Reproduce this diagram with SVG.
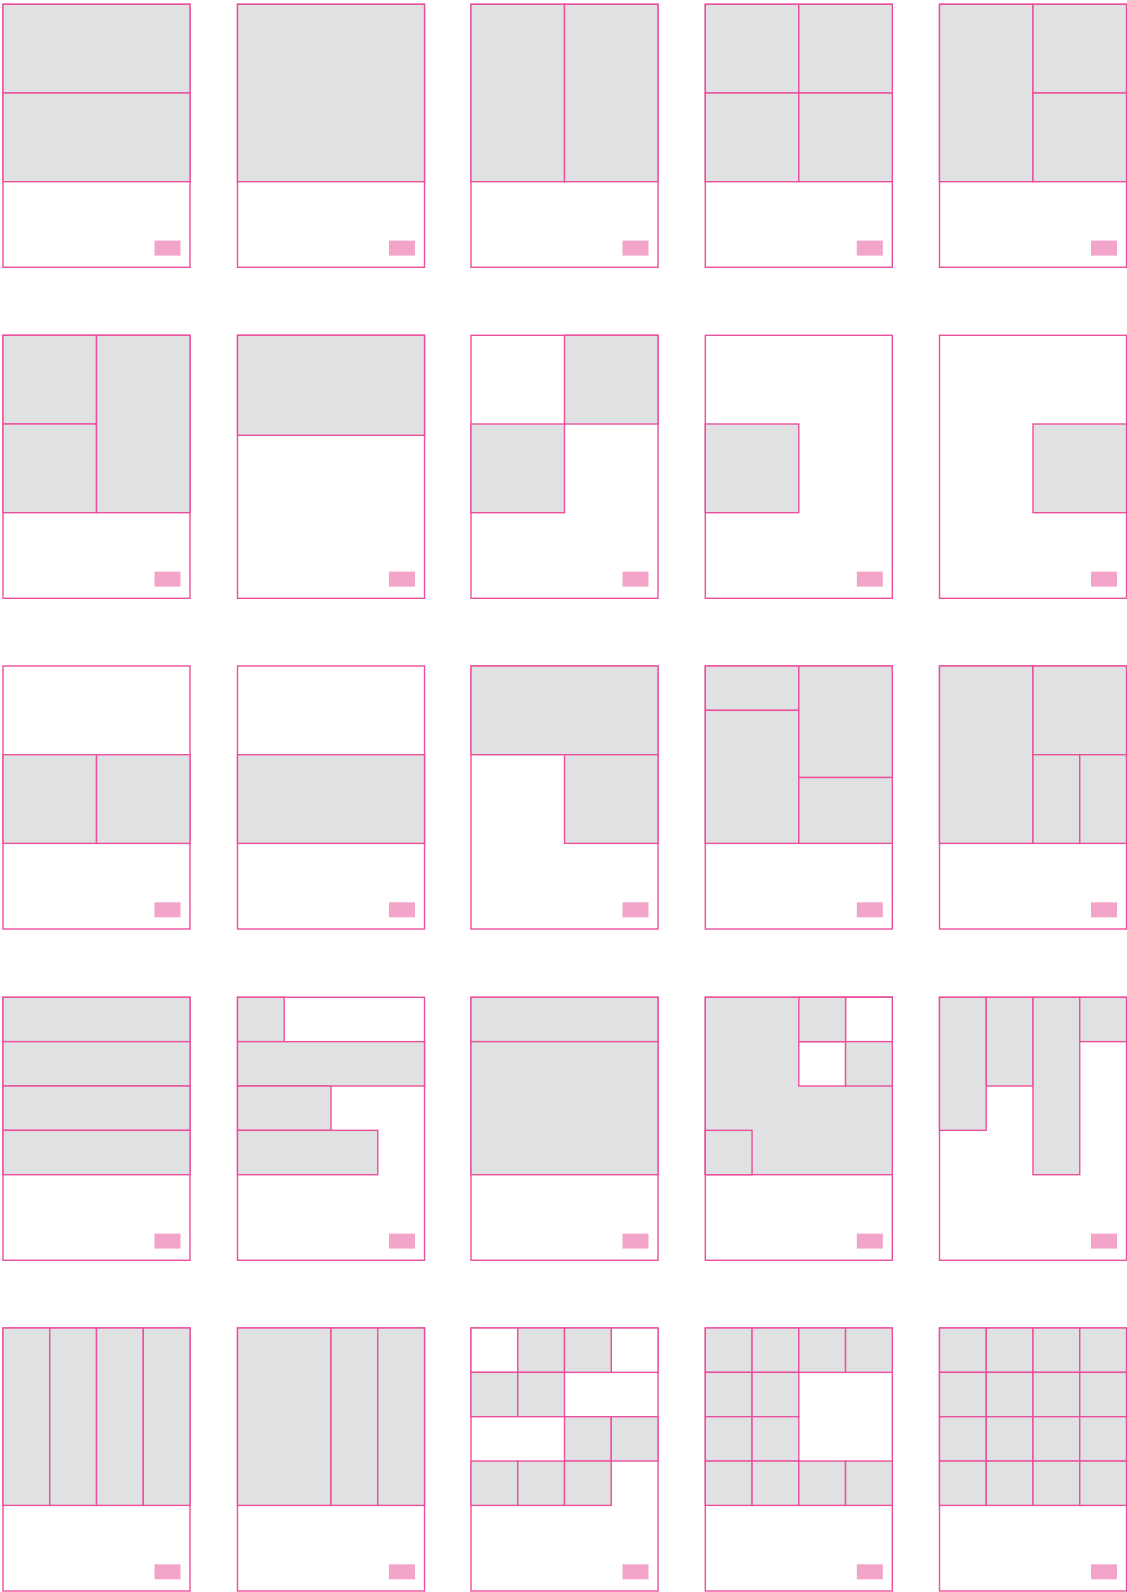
<svg xmlns="http://www.w3.org/2000/svg" width="1127" height="1592" viewBox="0 0 1127 1592">
<style>
.t{fill:#FFFFFF;stroke:#EB509C;stroke-width:1.4}
.g{fill:#E0E1E3;stroke:#EB509C;stroke-width:1.4}
.w{fill:#FFFFFF;stroke:#EB509C;stroke-width:1.4}
.tag{fill:#F3A4C9}
</style>
<defs>
<rect id="page" class="t" x="0" y="0" width="187" height="263"/>
<rect id="label" class="tag" x="151.5" y="236.3" width="26" height="15"/>
</defs>
<rect width="1127" height="1592" fill="#FFFFFF"/>

<!-- Row 1 -->
<g id="r1c1" transform="translate(3,4.3)">
<use href="#page"/>
<rect class="g" x="0" y="0" width="187" height="88.7"/>
<rect class="g" x="0" y="88.7" width="187" height="88.7"/>
<use href="#label"/>
</g>
<g id="r1c2" transform="translate(237.5,4.3)">
<use href="#page"/>
<rect class="g" x="0" y="0" width="187" height="177.4"/>
<use href="#label"/>
</g>
<g id="r1c3" transform="translate(471,4.3)">
<use href="#page"/>
<rect class="g" x="0" y="0" width="93.5" height="177.4"/>
<rect class="g" x="93.5" y="0" width="93.5" height="177.4"/>
<use href="#label"/>
</g>
<g id="r1c4" transform="translate(705.3,4.3)">
<use href="#page"/>
<rect class="g" x="0" y="0" width="93.5" height="88.7"/>
<rect class="g" x="93.5" y="0" width="93.5" height="88.7"/>
<rect class="g" x="0" y="88.7" width="93.5" height="88.7"/>
<rect class="g" x="93.5" y="88.7" width="93.5" height="88.7"/>
<use href="#label"/>
</g>
<g id="r1c5" transform="translate(939.5,4.3)">
<use href="#page"/>
<rect class="g" x="0" y="0" width="93.5" height="177.4"/>
<rect class="g" x="93.5" y="0" width="93.5" height="88.7"/>
<rect class="g" x="93.5" y="88.7" width="93.5" height="88.7"/>
<use href="#label"/>
</g>

<!-- Row 2 -->
<g id="r2c1" transform="translate(3,335.3)">
<use href="#page"/>
<rect class="g" x="0" y="0" width="93.5" height="88.7"/>
<rect class="g" x="0" y="88.7" width="93.5" height="88.7"/>
<rect class="g" x="93.5" y="0" width="93.5" height="177.4"/>
<use href="#label"/>
</g>
<g id="r2c2" transform="translate(237.5,335.3)">
<use href="#page"/>
<rect class="g" x="0" y="0" width="187" height="100"/>
<use href="#label"/>
</g>
<g id="r2c3" transform="translate(471,335.3)">
<use href="#page"/>
<rect class="g" x="93.5" y="0" width="93.5" height="88.7"/>
<rect class="g" x="0" y="88.7" width="93.5" height="88.7"/>
<use href="#label"/>
</g>
<g id="r2c4" transform="translate(705.3,335.3)">
<use href="#page"/>
<rect class="g" x="0" y="88.7" width="93.5" height="88.7"/>
<use href="#label"/>
</g>
<g id="r2c5" transform="translate(939.5,335.3)">
<use href="#page"/>
<rect class="g" x="93.5" y="88.7" width="93.5" height="88.7"/>
<use href="#label"/>
</g>

<!-- Row 3 -->
<g id="r3c1" transform="translate(3,666)">
<use href="#page"/>
<rect class="g" x="0" y="88.7" width="93.5" height="88.7"/>
<rect class="g" x="93.5" y="88.7" width="93.5" height="88.7"/>
<use href="#label"/>
</g>
<g id="r3c2" transform="translate(237.5,666)">
<use href="#page"/>
<rect class="g" x="0" y="88.7" width="187" height="88.7"/>
<use href="#label"/>
</g>
<g id="r3c3" transform="translate(471,666)">
<use href="#page"/>
<rect class="g" x="0" y="0" width="187" height="88.7"/>
<rect class="g" x="93.5" y="88.7" width="93.5" height="88.7"/>
<use href="#label"/>
</g>
<g id="r3c4" transform="translate(705.3,666)">
<use href="#page"/>
<rect class="g" x="0" y="0" width="93.5" height="44.35"/>
<rect class="g" x="0" y="44.35" width="93.5" height="133.05"/>
<rect class="g" x="93.5" y="0" width="93.5" height="111.5"/>
<rect class="g" x="93.5" y="111.5" width="93.5" height="65.9"/>
<use href="#label"/>
</g>
<g id="r3c5" transform="translate(939.5,666)">
<use href="#page"/>
<rect class="g" x="0" y="0" width="93.5" height="177.4"/>
<rect class="g" x="93.5" y="0" width="93.5" height="88.7"/>
<rect class="g" x="93.5" y="88.7" width="46.75" height="88.7"/>
<rect class="g" x="140.25" y="88.7" width="46.75" height="88.7"/>
<use href="#label"/>
</g>

<!-- Row 4 -->
<g id="r4c1" transform="translate(3,997.3)">
<use href="#page"/>
<rect class="g" x="0" y="0" width="187" height="44.35"/>
<rect class="g" x="0" y="44.35" width="187" height="44.35"/>
<rect class="g" x="0" y="88.7" width="187" height="44.35"/>
<rect class="g" x="0" y="133.05" width="187" height="44.35"/>
<use href="#label"/>
</g>
<g id="r4c2" transform="translate(237.5,997.3)">
<use href="#page"/>
<rect class="g" x="0" y="0" width="46.75" height="44.35"/>
<rect class="g" x="0" y="44.35" width="187" height="44.35"/>
<rect class="g" x="0" y="88.7" width="93.5" height="44.35"/>
<rect class="g" x="0" y="133.05" width="140.25" height="44.35"/>
<use href="#label"/>
</g>
<g id="r4c3" transform="translate(471,997.3)">
<use href="#page"/>
<rect class="g" x="0" y="0" width="187" height="44.35"/>
<rect class="g" x="0" y="44.35" width="187" height="133.05"/>
<use href="#label"/>
</g>
<g id="r4c4" transform="translate(705.3,997.3)">
<use href="#page"/>
<rect class="g" x="0" y="0" width="187" height="177.4"/>
<rect class="w" x="140.25" y="0" width="46.75" height="44.35"/>
<rect class="w" x="93.5" y="44.35" width="46.75" height="44.35"/>
<rect class="g" x="93.5" y="0" width="46.75" height="44.35"/>
<rect class="g" x="140.25" y="44.35" width="46.75" height="44.35"/>
<rect class="g" x="0" y="133.05" width="46.75" height="44.35"/>
<use href="#label"/>
</g>
<g id="r4c5" transform="translate(939.5,997.3)">
<use href="#page"/>
<rect class="g" x="0" y="0" width="46.75" height="133.05"/>
<rect class="g" x="46.75" y="0" width="46.75" height="88.7"/>
<rect class="g" x="93.5" y="0" width="46.75" height="177.4"/>
<rect class="g" x="140.25" y="0" width="46.75" height="44.35"/>
<use href="#label"/>
</g>

<!-- Row 5 -->
<g id="r5c1" transform="translate(3,1328)">
<use href="#page"/>
<rect class="g" x="0" y="0" width="46.75" height="177.4"/>
<rect class="g" x="46.75" y="0" width="46.75" height="177.4"/>
<rect class="g" x="93.5" y="0" width="46.75" height="177.4"/>
<rect class="g" x="140.25" y="0" width="46.75" height="177.4"/>
<use href="#label"/>
</g>
<g id="r5c2" transform="translate(237.5,1328)">
<use href="#page"/>
<rect class="g" x="0" y="0" width="93.5" height="177.4"/>
<rect class="g" x="93.5" y="0" width="46.75" height="177.4"/>
<rect class="g" x="140.25" y="0" width="46.75" height="177.4"/>
<use href="#label"/>
</g>
<g id="r5c3" transform="translate(471,1328)">
<use href="#page"/>
<rect class="w" x="0" y="0" width="46.75" height="44.35"/>
<rect class="w" x="140.25" y="0" width="46.75" height="44.35"/>
<rect class="g" x="46.75" y="0" width="46.75" height="44.35"/>
<rect class="g" x="93.5" y="0" width="46.75" height="44.35"/>
<rect class="g" x="0" y="44.35" width="46.75" height="44.35"/>
<rect class="g" x="46.75" y="44.35" width="46.75" height="44.35"/>
<rect class="g" x="93.5" y="88.7" width="46.75" height="44.35"/>
<rect class="g" x="140.25" y="88.7" width="46.75" height="44.35"/>
<rect class="g" x="0" y="133.05" width="46.75" height="44.35"/>
<rect class="g" x="46.75" y="133.05" width="46.75" height="44.35"/>
<rect class="g" x="93.5" y="133.05" width="46.75" height="44.35"/>
<use href="#label"/>
</g>
<g id="r5c4" transform="translate(705.3,1328)">
<use href="#page"/>
<rect class="g" x="0" y="0" width="46.75" height="44.35"/>
<rect class="g" x="46.75" y="0" width="46.75" height="44.35"/>
<rect class="g" x="93.5" y="0" width="46.75" height="44.35"/>
<rect class="g" x="140.25" y="0" width="46.75" height="44.35"/>
<rect class="g" x="0" y="44.35" width="46.75" height="44.35"/>
<rect class="g" x="46.75" y="44.35" width="46.75" height="44.35"/>
<rect class="g" x="0" y="88.7" width="46.75" height="44.35"/>
<rect class="g" x="46.75" y="88.7" width="46.75" height="44.35"/>
<rect class="g" x="0" y="133.05" width="46.75" height="44.35"/>
<rect class="g" x="46.75" y="133.05" width="46.75" height="44.35"/>
<rect class="g" x="93.5" y="133.05" width="46.75" height="44.35"/>
<rect class="g" x="140.25" y="133.05" width="46.75" height="44.35"/>
<use href="#label"/>
</g>
<g id="r5c5" transform="translate(939.5,1328)">
<use href="#page"/>
<rect class="g" x="0" y="0" width="46.75" height="44.35"/>
<rect class="g" x="46.75" y="0" width="46.75" height="44.35"/>
<rect class="g" x="93.5" y="0" width="46.75" height="44.35"/>
<rect class="g" x="140.25" y="0" width="46.75" height="44.35"/>
<rect class="g" x="0" y="44.35" width="46.75" height="44.35"/>
<rect class="g" x="46.75" y="44.35" width="46.75" height="44.35"/>
<rect class="g" x="93.5" y="44.35" width="46.75" height="44.35"/>
<rect class="g" x="140.25" y="44.35" width="46.75" height="44.35"/>
<rect class="g" x="0" y="88.7" width="46.75" height="44.35"/>
<rect class="g" x="46.75" y="88.7" width="46.75" height="44.35"/>
<rect class="g" x="93.5" y="88.7" width="46.75" height="44.35"/>
<rect class="g" x="140.25" y="88.7" width="46.75" height="44.35"/>
<rect class="g" x="0" y="133.05" width="46.75" height="44.35"/>
<rect class="g" x="46.75" y="133.05" width="46.75" height="44.35"/>
<rect class="g" x="93.5" y="133.05" width="46.75" height="44.35"/>
<rect class="g" x="140.25" y="133.05" width="46.75" height="44.35"/>
<use href="#label"/>
</g>
<g id="connectors"></g>
</svg>
